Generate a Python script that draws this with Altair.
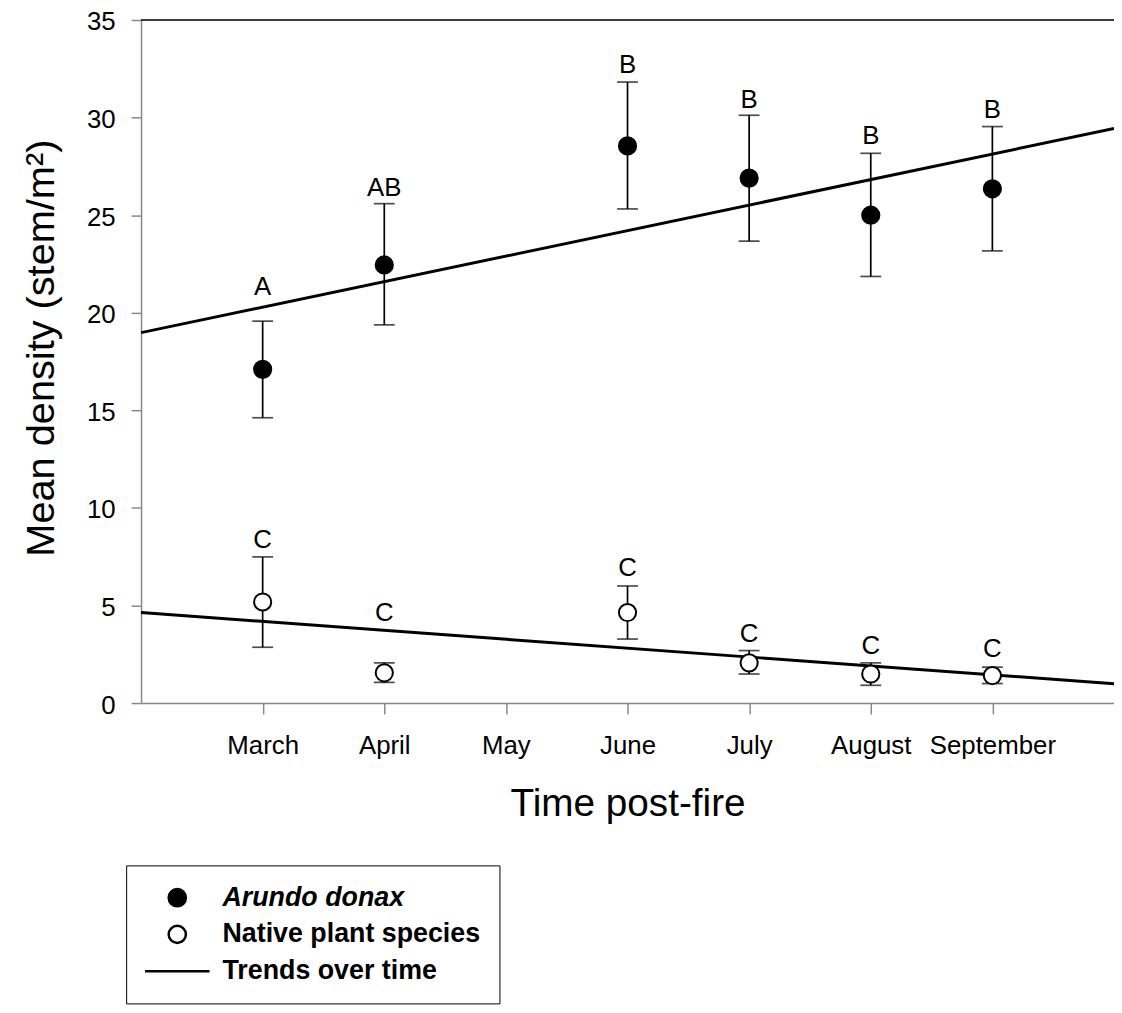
import json
import altair as alt
import pandas as pd

FONT = "Liberation Sans"

# ---- data ----
months = ["March", "April", "May", "June", "July", "August", "September"]
sample_pos = [1, 2, 4, 5, 6, 7]  # March, April, June, July, August, September

arundo_mean = [17.1, 22.45, 28.55, 26.9, 25.0, 26.35]
arundo_upper = [19.57, 25.59, 31.82, 30.12, 28.17, 29.54]
arundo_lower = [14.62, 19.38, 25.32, 23.67, 21.86, 23.17]
arundo_letters = ["A", "AB", "B", "B", "B", "B"]
arundo_letter_y = [20.93, 25.98, 32.29, 30.47, 28.64, 29.96]

native_mean = [5.18, 1.55, 4.64, 2.06, 1.49, 1.41]
native_upper = [7.49, 2.06, 6.0, 2.69, 2.06, 1.84]
native_lower = [2.86, 1.06, 3.28, 1.49, 0.91, 1.0]
native_letters = ["C", "C", "C", "C", "C", "C"]
native_letter_y = [7.95, 4.21, 6.50, 3.11, 2.52, 2.35]

trend_x = [0, 8]
arundo_trend = [18.98, 29.44]
native_trend = [4.64, 0.99]

legend_labels = ["Arundo donax", "Native plant species", "Trends over time"]
legend_shapes = ["circle", "circle", "M-3.75,0H3.75"]

X_MAX = 8
Y_MAX = 35

# ---- tables ----
pts = pd.DataFrame({
    "pos": sample_pos * 2,
    "mean": arundo_mean + native_mean,
    "upper": arundo_upper + native_upper,
    "lower": arundo_lower + native_lower,
    "letter": arundo_letters + native_letters,
    "letter_y": arundo_letter_y + native_letter_y,
    "series": ["Arundo donax"] * 6 + ["Native plant species"] * 6,
})
trend = pd.DataFrame({
    "x": trend_x * 2,
    "y": arundo_trend + native_trend,
    "series": ["Arundo donax"] * 2 + ["Native plant species"] * 2,
})
# legend is driven by the scale domain only (no marks drawn)
legend_df = pd.DataFrame({"key": pd.Series([], dtype="object")})

xscale = alt.Scale(domain=[0, X_MAX], nice=False, zero=False)
yscale = alt.Scale(domain=[0, Y_MAX], nice=False)

label_expr = f"{json.dumps(months)}[datum.value - 1]"
x_axis = alt.Axis(
    values=list(range(1, 8)), labelExpr=label_expr, title="Time post-fire",
    grid=False, tickSize=11, labelPadding=18.5, titlePadding=27,
    labelFontSize=26, titleFontSize=39, titleFontWeight="normal",
    domainWidth=1.5, tickWidth=1.5, labelOverlap=False, labelFlush=False,
)
y_axis = alt.Axis(
    values=list(range(0, 36, 5)), title="Mean density (stem/m²)",
    grid=False, tickSize=10, labelPadding=16, titlePadding=25, labelOffset=2,
    labelFontSize=26, titleFontSize=40, titleFontWeight="normal", titleY=330,
    domainWidth=1.5, tickWidth=1.5,
)

base = alt.Chart(pts)

trend_lines = alt.Chart(trend).mark_line(color="black", strokeWidth=3, clip=True).encode(
    x=alt.X("x:Q", scale=xscale, axis=x_axis),
    y=alt.Y("y:Q", scale=yscale, axis=y_axis),
    detail="series:N",
)

top_border = alt.Chart(pd.DataFrame({"a": [0]})).mark_rule(color="black", strokeWidth=1.5).encode(
    x=alt.datum(0, scale=xscale),
    x2=alt.datum(X_MAX),
    y=alt.datum(Y_MAX, scale=yscale),
)

err = base.mark_rule(color="black", strokeWidth=1.7).encode(
    x="pos:Q", y="lower:Q", y2="upper:Q"
)
cap_hi = base.mark_tick(color="black", orient="horizontal", size=21, thickness=1.7).encode(
    x="pos:Q", y="upper:Q"
)
cap_lo = base.mark_tick(color="black", orient="horizontal", size=21, thickness=1.7).encode(
    x="pos:Q", y="lower:Q"
)
points = base.mark_point(filled=True, size=300, stroke="black", strokeWidth=2, opacity=1).encode(
    x="pos:Q", y="mean:Q",
    fill=alt.condition(alt.datum.series == "Arundo donax", alt.value("black"), alt.value("white")),
)
letters = base.mark_text(font=FONT, fontSize=26, color="black", align="center",
                         baseline="alphabetic").encode(
    x="pos:Q", y="letter_y:Q", text="letter:N"
)

leg = alt.Legend(
    orient="none", legendX=-15, legendY=851.5, title=None,
    strokeColor="black", padding=19, rowPadding=8,
    symbolSize=300, symbolOffset=19, symbolStrokeWidth=2.5, labelOffset=32,
    labelFont=FONT, labelFontSize=27, labelFontWeight="bold",
    labelFontStyle={"expr": "datum.label == 'Arundo donax' ? 'italic' : 'normal'"},
    labelColor="black", labelLimit=500,
)
legend_layer = alt.Chart(legend_df).mark_point(
    filled=True, opacity=1, stroke="black", strokeWidth=2.5,
    fill={"expr": "datum.value == 'Native plant species' ? 'white' : 'black'"},
).encode(
    shape=alt.Shape("key:N", scale=alt.Scale(domain=legend_labels, range=legend_shapes), legend=leg),
)

chart = alt.layer(
    trend_lines, top_border, err, cap_hi, cap_lo, points, letters, legend_layer
).properties(
    width=980, height=688,
    autosize=alt.AutoSizeParams(type="none"),
    padding={"left": 134, "top": 8.5, "right": 0, "bottom": 300},
).configure_view(stroke=None).configure_axis(
    labelFont=FONT, titleFont=FONT, labelColor="black", titleColor="black",
    domainColor="black", tickColor="black",
).configure(background="white")

chart.save("out.html", embed_options={"renderer": "svg", "actions": False})
